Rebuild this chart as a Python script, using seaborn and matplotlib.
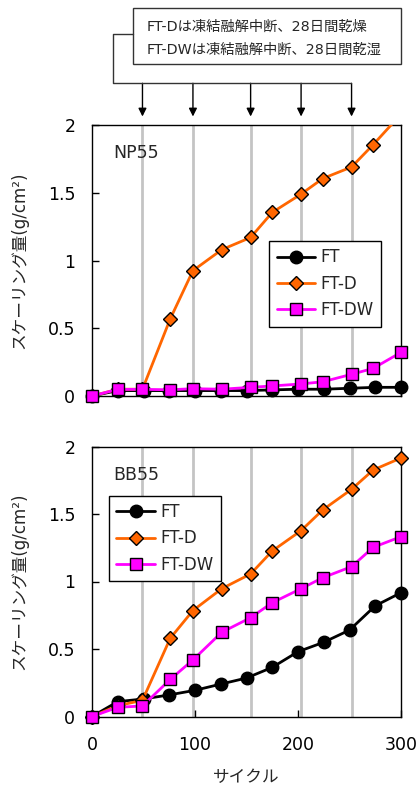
import matplotlib
matplotlib.use("Agg")
import matplotlib.pyplot as plt
import seaborn as sns
from matplotlib.lines import Line2D
from matplotlib.patches import Rectangle

# ---------------- data ----------------
cycles_ft = [0, 25, 50, 75, 100, 125, 150, 175, 200, 225, 250, 275, 300]
cycles_d = [0, 25, 49, 76, 98, 126, 154, 175, 203, 224, 252, 273, 300]
dry_cycles = [49, 98, 154, 203, 252]

np55_ft = [0, 0.04, 0.04, 0.04, 0.04, 0.04, 0.04, 0.045, 0.05, 0.05, 0.057, 0.064, 0.064]
np55_ftd = [0, 0.05, 0.05, 0.57, 0.925, 1.08, 1.17, 1.355, 1.49, 1.605, 1.69, 1.855, 2.08]
np55_ftdw = [0, 0.049, 0.049, 0.046, 0.054, 0.05, 0.064, 0.074, 0.089, 0.105, 0.16, 0.204, 0.322]

bb55_ft = [0, 0.11, 0.13, 0.16, 0.194, 0.24, 0.285, 0.364, 0.48, 0.55, 0.64, 0.82, 0.917]
bb55_ftd = [0, 0.08, 0.12, 0.58, 0.785, 0.947, 1.056, 1.226, 1.377, 1.53, 1.683, 1.826, 1.915]
bb55_ftdw = [0, 0.068, 0.078, 0.275, 0.419, 0.624, 0.732, 0.843, 0.947, 1.028, 1.11, 1.253, 1.332]

series_labels = ["FT", "FT-D", "FT-DW"]
panel_names = ["NP55", "BB55"]
yticks = [0, 0.5, 1, 1.5, 2]
ytick_labels = ["0", "0.5", "1", "1.5", "2"]
xticks = [0, 100, 200, 300]
xtick_labels = ["0", "100", "200", "300"]
ylabel = "スケーリング量(g/cm²)"
xlabel = "サイクル"
note_lines = ["FT-Dは凍結融解中断、28日間乾燥", "FT-DWは凍結融解中断、28日間乾湿"]

# ---------------- style ----------------
sns.set_style("ticks")
plt.rcParams["font.family"] = ["DejaVu Sans", "Noto Sans CJK JP"]

W, H = 419, 787
fig = plt.figure(figsize=(W / 100, H / 100), dpi=100)

def fx(px):
    return px / W

def fy(py):
    return 1 - py / H

ax_top = fig.add_axes([fx(92), fy(396), fx(401) - fx(92), fy(125) - fy(396)])
ax_bot = fig.add_axes([fx(92), fy(716.5), fx(401) - fx(92), fy(446.5) - fy(716.5)])

colors = ["black", "#ff6600", "#ff00ff"]
markers = ["o", "D", "s"]
msizes = [9, 7.5, 9]

panels = [
    (ax_top, [np55_ft, np55_ftd, np55_ftdw], panel_names[0]),
    (ax_bot, [bb55_ft, bb55_ftd, bb55_ftdw], panel_names[1]),
]

for i, (ax, ys, name) in enumerate(panels):
    for g in dry_cycles:
        ax.axvline(g, color="#c4c4c4", lw=2, zorder=0)
    n_before = len(ax.lines)
    for j, (lab, yv) in enumerate(zip(series_labels, ys)):
        xs = cycles_ft if j == 0 else cycles_d
        sns.lineplot(x=xs, y=yv, ax=ax, color=colors[j], marker=markers[j],
                     markersize=msizes[j], markeredgecolor="black",
                     markeredgewidth=1, linewidth=2, label=lab, zorder=3 + j)
    for j, ln in enumerate(ax.lines[n_before:]):
        # points sitting on the frame are drawn whole; the off-scale
        # NP55 FT-D end point stays clipped
        ln.set_clip_on(i == 0 and j == 1)
    ax.set_xlim(0, 300)
    ax.set_ylim(0, 2)
    ax.set_yticks(yticks)
    ax.set_yticklabels(ytick_labels)
    ax.set_xticks(xticks)
    ax.tick_params(axis="both", direction="in", length=5, width=1,
                   labelsize=12.5, colors="black")
    ax.tick_params(axis="y", pad=12)
    ax.tick_params(axis="x", pad=14)
    for sp in ax.spines.values():
        sp.set_visible(True)
        sp.set_color("black")
        sp.set_linewidth(1)
    ax.set_ylabel(ylabel, fontsize=12)
    ax.yaxis.set_label_coords(-0.205, 0.5)
    ax.text(0.07, 0.895, name, transform=ax.transAxes, fontsize=12.5,
            va="center", ha="left")
    if i == 0:
        ax.set_xticklabels([])
        ax.set_xlabel("")
        anchor = (0.573, 0.572)
    else:
        ax.set_xticklabels(xtick_labels)
        ax.set_xlabel(xlabel, fontsize=12)
        ax.xaxis.set_label_coords(0.5, -0.19)
        anchor = (0.055, 0.818)
    handles, labels = ax.get_legend_handles_labels()
    leg = ax.legend(handles, labels, loc="upper left", bbox_to_anchor=anchor,
                    borderaxespad=0, fontsize=12, handlelength=2.3,
                    handletextpad=0.35, labelspacing=0.5, borderpad=0.45,
                    fancybox=False, framealpha=1, edgecolor="black")
    leg.get_frame().set_linewidth(1)
    leg.set_zorder(10)

# ---------------- annotation ----------------
fig.add_artist(Rectangle((fx(133), fy(64.3)), fx(401) - fx(133), fy(8.3) - fy(64.3),
                         transform=fig.transFigure, fill=False, edgecolor="#333333",
                         linewidth=1))
fig.text(fx(146.5), fy(26.7), note_lines[0], fontsize=10.3, va="center", ha="left")
fig.text(fx(146.5), fy(50.0), note_lines[1], fontsize=10.3, va="center", ha="left")

fig.add_artist(Line2D([fx(133), fx(112.7), fx(112.7), fx(350.7)],
                      [fy(34.3), fy(34.3), fy(83.3), fy(83.3)],
                      transform=fig.transFigure, color="#333333", lw=1))
for g in dry_cycles:
    ax_top.annotate("", xy=(g, (396 - 116.5) / 271), xycoords=("data", "axes fraction"),
                    xytext=(g, (396 - 83.3) / 271), textcoords=("data", "axes fraction"),
                    arrowprops=dict(arrowstyle="-|>", color="black", lw=1,
                                    mutation_scale=12, shrinkA=0, shrinkB=0),
                    annotation_clip=False)

fig.savefig("out.png", dpi=100)
